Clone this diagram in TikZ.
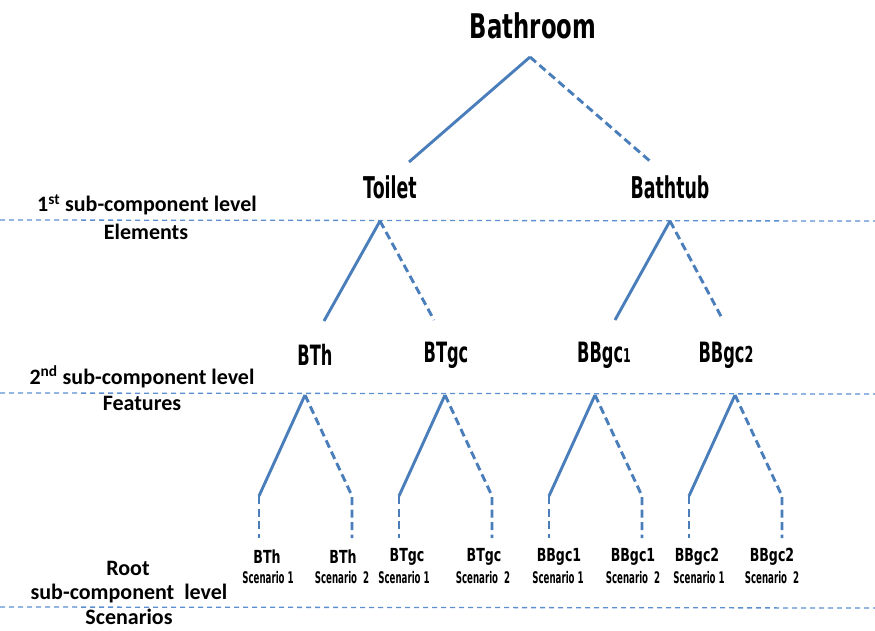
\documentclass[tikz,border=0pt]{standalone}
\usepackage{fontspec}
\setmainfont{Carlito}
\newfontfamily\condA[FakeStretch=0.67]{DejaVu Sans}
\newfontfamily\condB[FakeStretch=0.58]{DejaVu Sans}
\newfontfamily\condC[FakeStretch=0.70]{DejaVu Sans}
\newfontfamily\condD[FakeStretch=0.54]{DejaVu Sans}
\definecolor{lineblue}{HTML}{4A7EBB}
\definecolor{sepblue}{HTML}{5B8FD0}
\begin{document}
\begin{tikzpicture}[x=1pt,y=-1pt,
  treeline/.style={lineblue,line width=2.9pt},
  dashline/.style={lineblue,line width=2.9pt,dash pattern=on 8pt off 4.5pt},
  sepline/.style={sepblue,line width=1.3pt,dash pattern=on 5pt off 4pt},
  big/.style={font=\condA\bfseries\fontsize{34}{36}\selectfont,inner sep=0pt},
  lvone/.style={font=\condB\bfseries\fontsize{30}{32}\selectfont,inner sep=0pt},
  lvtwo/.style={font=\condB\bfseries\fontsize{28}{30}\selectfont,inner sep=0pt},
  leaf/.style={font=\condC\bfseries\fontsize{18}{19}\selectfont,inner sep=0pt},
  scen/.style={font=\condD\bfseries\fontsize{16}{17}\selectfont,inner sep=0pt},
  side/.style={font=\bfseries\fontsize{22}{24}\selectfont,inner sep=0pt}]
\useasboundingbox (0,0) rectangle (875,630);
% separators
\coordinate (s1a) at (0,220); \coordinate (s1b) at (875,221);
\coordinate (s2a) at (0,393); \coordinate (s2b) at (875,394);
\coordinate (s3a) at (0,607); \coordinate (s3b) at (875,608);
\draw[sepline] (s1a) -- (s1b);
\draw[sepline] (s2a) -- (s2b);
\draw[sepline] (s3a) -- (s3b);
% side labels
\node[side] (l1) at (147,205) {1\textsuperscript{st} sub-component level};
\node[side] (e1) at (146,232) {Elements};
\node[side] (l2) at (142,377) {2\textsuperscript{nd} sub-component level};
\node[side] (f2) at (142,403) {Features};
\node[side] (r3) at (128,568) {Root};
\node[side] (l3) at (129,593) {sub-component\ \ level};
\node[side] (sc) at (129,617) {Scenarios};
% top level
\node[big] (bath) at (533,26) {Bathroom};
\coordinate (a0) at (530,57);
\coordinate (t0) at (409,162);
\coordinate (b0) at (651,162);
\draw[treeline] (a0) -- (t0);
\draw[dashline] (a0) -- (b0);
\node[lvone] (toilet) at (390,187) {Toilet};
\node[lvone] (bathtub) at (670,187) {Bathtub};
% level 1
\coordinate (at) at (380,221);
\coordinate (at1) at (324,321);
\coordinate (at2) at (434,320);
\draw[treeline] (at) -- (at1);
\draw[dashline] (at) -- (at2);
\coordinate (ab) at (670,221);
\coordinate (ab1) at (615,320);
\coordinate (ab2) at (723,320);
\draw[treeline] (ab) -- (ab1);
\draw[dashline] (ab) -- (ab2);
\node[lvtwo] (bth) at (315,355) {BTh};
\node[lvtwo] (btgc) at (446,355) {BTgc};
\node[lvtwo] (bbgc1) at (604,355) {BBgc{\fontsize{19}{20}\selectfont 1}};
\node[lvtwo] (bbgc2) at (726,355) {BBgc{\fontsize{22}{22}\selectfont 2}};
% level 2
\foreach \n/\x in {p1/305,p2/445,p3/595,p4/735}{
  \coordinate (\n) at (\x,395);
  \coordinate (\n l) at (\x-46,496);
  \coordinate (\n r) at (\x+47,496);
  \coordinate (\n lb) at (\x-46,538);
  \coordinate (\n rb) at (\x+47,538);
  \draw[treeline] (\n) -- (\n l);
  \draw[dashline] (\n l) -- (\n lb);
  \draw[dashline] (\n) -- (\n r) -- (\n rb);
}
% leaves
\node[leaf] (q1) at (267,557) {BTh};
\node[scen] (q1s) at (268,578) {Scenario 1};
\node[leaf] (q2) at (343,557) {BTh};
\node[scen] (q2s) at (342,578) {Scenario\ \ 2};
\node[leaf] (q3) at (407,557) {BTgc};
\node[scen] (q3s) at (404,578) {Scenario 1};
\node[leaf] (q4) at (484,557) {BTgc};
\node[scen] (q4s) at (483,578) {Scenario\ \ 2};
\node[leaf] (q5) at (559,557) {BBgc1};
\node[scen] (q5s) at (558,578) {Scenario 1};
\node[leaf] (q6) at (633,557) {BBgc1};
\node[scen] (q6s) at (633,578) {Scenario\ \ 2};
\node[leaf] (q7) at (697,557) {BBgc2};
\node[scen] (q7s) at (699,578) {Scenario 1};
\node[leaf] (q8) at (772,557) {BBgc2};
\node[scen] (q8s) at (772,578) {Scenario\ \ 2};
\end{tikzpicture}
\end{document}
